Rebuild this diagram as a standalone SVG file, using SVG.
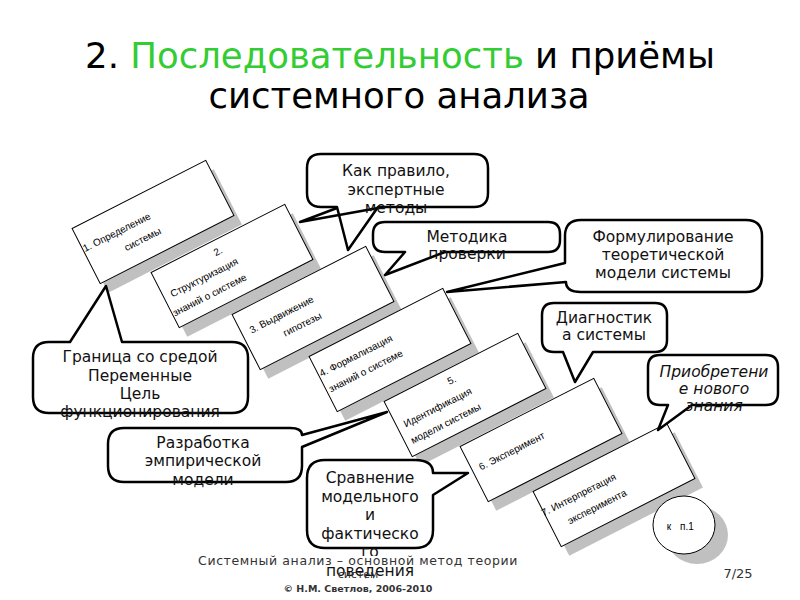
<svg xmlns="http://www.w3.org/2000/svg" width="800" height="600" viewBox="0 0 800 600">
<style>
.title{font-family:"DejaVu Sans","Liberation Sans",sans-serif;font-size:35.5px;fill:#000;text-anchor:middle}
.green{fill:#33cc33}
.box{fill:#fff;stroke:#000;stroke-width:1}
.shadow{fill:#c0c0c0}
.bt{font-family:"Liberation Sans",sans-serif;font-size:10px;fill:#000;text-anchor:middle}
.call{fill:#fff;stroke:#000;stroke-width:2.5;stroke-linejoin:round}
.tail{fill:none;stroke:#000;stroke-width:2.5;stroke-linejoin:round}
.ct{font-family:"DejaVu Sans","Liberation Sans",sans-serif;font-size:15.5px;fill:#111;text-anchor:middle}
.foot{font-family:"DejaVu Sans","Liberation Sans",sans-serif;fill:#333;text-anchor:middle}
</style>
<rect width="800" height="600" fill="#fff"/>
<g id="title">
<text class="title" x="400" y="68">2. <tspan class="green">Последовательность</tspan> и приёмы</text>
<text class="title" x="399" y="108">системного анализа</text>
</g>
<g id="step1">
<rect class="shadow" x="-75" y="-31" width="150" height="62" transform="translate(161,231) rotate(-27)"/>
<g transform="translate(153,222) rotate(-27)"><rect class="box" x="-75" y="-31" width="150" height="62"/>
<text class="bt" x="-37" y="-4">1. Определение</text><text class="bt" x="-17" y="14">системы</text></g>
</g>
<g id="step2">
<rect class="shadow" x="-75" y="-31" width="150" height="62" transform="translate(240,275) rotate(-27)"/>
<g transform="translate(232,266) rotate(-27)"><rect class="box" x="-75" y="-31" width="150" height="62"/>
<text class="bt" x="-6" y="-16">2.</text><text class="bt" x="-30" y="1">Структуризация</text><text class="bt" x="-33" y="19">знаний о системе</text></g>
</g>
<g id="step3">
<rect class="shadow" x="-75" y="-31" width="150" height="62" transform="translate(321,317) rotate(-27)"/>
<g transform="translate(313,308) rotate(-27)"><rect class="box" x="-75" y="-31" width="150" height="62"/>
<text class="bt" x="-31" y="-5">3. Выдвижение</text><text class="bt" x="-17" y="13">гипотезы</text></g>
</g>
<g id="step4">
<rect class="shadow" x="-75" y="-31" width="150" height="62" transform="translate(398,359) rotate(-27)"/>
<g transform="translate(390,350) rotate(-27)"><rect class="box" x="-75" y="-31" width="150" height="62"/>
<text class="bt" x="-33" y="-7">4. Формализация</text><text class="bt" x="-31" y="11">знаний о системе</text></g>
</g>
<g id="step5">
<rect class="shadow" x="-75" y="-31" width="150" height="62" transform="translate(473,404) rotate(-27)"/>
<g transform="translate(465,395) rotate(-27)"><rect class="box" x="-75" y="-31" width="150" height="62"/>
<text class="bt" x="-5" y="-16">5.</text><text class="bt" x="-30" y="2">Идентификация</text><text class="bt" x="-30" y="20">модели системы</text></g>
</g>
<g id="step6">
<rect class="shadow" x="-75" y="-31" width="150" height="62" transform="translate(549,449) rotate(-27)"/>
<g transform="translate(541,440) rotate(-27)"><rect class="box" x="-75" y="-31" width="150" height="62"/>
<text class="bt" x="-31" y="0">6. Эксперимент</text></g>
</g>
<g id="step7">
<rect class="shadow" x="-75" y="-31" width="150" height="62" transform="translate(622,494) rotate(-27)"/>
<g transform="translate(614,485) rotate(-27)"><rect class="box" x="-75" y="-31" width="150" height="62"/>
<text class="bt" x="-36" y="-4">7. Интерпретация</text><text class="bt" x="-25" y="15">эксперимента</text></g>
</g>
<g id="back">
<ellipse cx="697" cy="535" rx="31" ry="29" fill="#c0c0c0"/>
<ellipse cx="684" cy="525" rx="31" ry="29" fill="#fff" stroke="#000" stroke-width="1"/>
<text class="bt" x="669" y="530" font-size="12">к</text>
<text class="bt" x="687" y="530" font-size="12">п.1</text>
</g>
<g id="connectors">
<g id="c-expert">
<path class="call" d="M321,154 H474 Q488,154 488,168 V193 Q488,207 474,207 H378 L348,250 L337,207 H321 Q307,207 307,193 V168 Q307,154 321,154 Z"/>
<path class="tail" d="M378,208 L300,222 L337,208"/>
<text class="ct" x="396" y="176">Как правило,</text>
<text class="ct" x="396" y="195">экспертные</text>
<text class="ct" x="396" y="213">методы</text>
</g>
<g id="c-check">
<path class="call" d="M385,222 H548 Q560,222 560,234 V240 Q560,252 548,252 H445 L385,275 L405,252 H385 Q373,252 373,240 V234 Q373,222 385,222 Z"/>
<text class="ct" x="467" y="242">Методика</text>
<text class="ct" x="467" y="259">проверки</text>
</g>
<g id="c-theory">
<path class="call" d="M581,220 H746 Q762,220 762,236 V276 Q762,292 746,292 H581 Q566,292 566,282 L447,292 L565,263 V236 Q565,220 581,220 Z"/>
<text class="ct" x="663" y="242">Формулирование</text>
<text class="ct" x="663" y="260">теоретической</text>
<text class="ct" x="663" y="278">модели системы</text>
</g>
<g id="c-diag">
<path class="call" d="M554,303 H655 Q667,303 667,315 V340 Q667,352 655,352 H593 L575,382 L563,352 H554 Q542,352 542,340 V315 Q542,303 554,303 Z"/>
<text class="ct" x="604" y="323">Диагностик</text>
<text class="ct" x="604" y="340">а системы</text>
</g>
<g id="c-knowledge">
<path class="call" d="M660,355 H766 Q778,355 778,367 V393 Q778,405 766,405 H692 L658,430 L668,405 H660 Q648,405 648,393 V367 Q648,355 660,355 Z"/>
<text class="ct" x="714" y="377" font-style="italic">Приобретени</text>
<text class="ct" x="714" y="394" font-style="italic">е нового</text>
<text class="ct" x="714" y="411" font-style="italic">знания</text>
</g>
<g id="c-border">
<path class="call" d="M49,342 H70 L106,286 L122,342 H232 Q248,342 248,358 V397 Q248,413 232,413 H49 Q33,413 33,397 V358 Q33,342 49,342 Z"/>
<text class="ct" x="140" y="362">Граница со средой</text>
<text class="ct" x="140" y="381">Переменные</text>
<text class="ct" x="140" y="399">Цель</text>
<text class="ct" x="140" y="417">функционирования</text>
</g>
<g id="c-empiric">
<path class="call" d="M124,428 H290 Q302,428 302,435 L387,412 L302,447 V466 Q302,482 286,482 H124 Q108,482 108,466 V444 Q108,428 124,428 Z"/>
<text class="ct" x="203" y="448">Разработка</text>
<text class="ct" x="203" y="466">эмпирической</text>
<text class="ct" x="203" y="485">модели</text>
</g>
<g id="c-compare">
<path class="call" d="M325,460 H415 Q433,460 433,473 L468,473 L433,495 V530 Q433,548 415,548 H325 Q307,548 307,530 V478 Q307,460 325,460 Z"/>
<text class="ct" x="370" y="483" font-size="16">Сравнение</text>
<text class="ct" x="370" y="502" font-size="16">модельного</text>
<text class="ct" x="370" y="520" font-size="16">и</text>
<text class="ct" x="370" y="539" font-size="16">фактическо</text>
<text class="ct" x="370" y="557" font-size="16">го</text>
<text class="ct" x="370" y="576" font-size="16">поведения</text>
</g>
</g>
<g id="footer">
<rect x="200" y="556" width="316" height="10" fill="#fff"/>
<text class="foot" x="358" y="565" font-size="12.5" letter-spacing="0.6">Системный анализ – основной метод теории</text>
<text class="foot" x="358" y="578" font-size="11" fill="#555">систем</text>
<text class="foot" x="358" y="592" font-size="9.5" font-weight="bold">© Н.М. Светлов, 2006-2010</text>
<text class="foot" x="738" y="578" font-size="13">7/25</text>
</g>
</svg>
